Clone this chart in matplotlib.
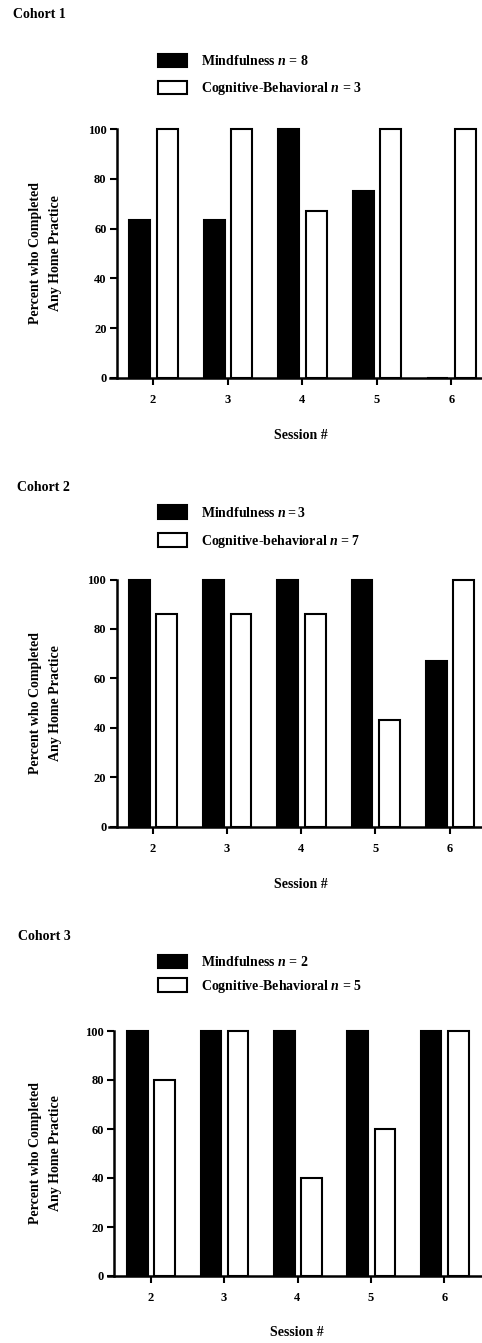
import matplotlib
matplotlib.use("Agg")
import matplotlib.pyplot as plt

# ---------- DATA ----------
sessions = [2, 3, 4, 5, 6]

cohort1_mind = [63.6, 63.6, 100, 75, 0]
cohort1_cbt = [100, 100, 67, 100, 100]
cohort2_mind = [100, 100, 100, 100, 67]
cohort2_cbt = [86, 86, 86, 43, 100]
cohort3_mind = [100, 100, 100, 100, 100]
cohort3_cbt = [80, 100, 40, 60, 100]

titles = ["Cohort 1", "Cohort 2", "Cohort 3"]
mind_labels = [r"Mindfulness $n$ = 8", r"Mindfulness $n = \mathit{3}$", r"Mindfulness $n$ = 2"]
cbt_labels = [r"Cognitive-Behavioral $n$ = 3", r"Cognitive-behavioral $n$ = 7",
              r"Cognitive-Behavioral $n$ = 5"]
yticks = [0, 20, 40, 60, 80, 100]

# ---------- STYLE ----------
plt.rcParams["font.family"] = ["Liberation Serif", "DejaVu Serif"]
plt.rcParams["font.weight"] = "bold"
plt.rcParams["mathtext.fontset"] = "custom"
plt.rcParams["mathtext.rm"] = "Liberation Serif"
plt.rcParams["mathtext.it"] = "Liberation Serif:italic"
plt.rcParams["mathtext.bf"] = "Liberation Serif:bold"

W, H = 482, 1343
fig = plt.figure(figsize=(W / 100, H / 100), dpi=100)


def fx(x):
    return x / W


def fy(y):
    return 1 - y / H


# layout per panel in pixels: axis start, spine x, tick 2 x, tick 6 x, y of 100, y of 0
layout = [
    (110, 117, 153, 451.3, 129.3, 377.7),
    (109.3, 116.7, 152.7, 449.7, 579.5, 826.7),
    (108, 114.3, 150.7, 444.3, 1031, 1276),
]
# title pos, legend rows, xlabel pos
title_pos = [(13, 15), (17, 487), (18, 936)]
legend_rows = [(61.7, 89.3), (513.3, 541.7), (962.7, 986.7)]
xlabel_y = [435, 884, 1333]
xlabel_x = [301, 301, 297]

mind_data = [cohort1_mind, cohort2_mind, cohort3_mind]
cbt_data = [cohort1_cbt, cohort2_cbt, cohort3_cbt]

for i in range(3):
    x0, sx, t2, t6, y100, y0 = layout[i]
    scale = (t6 - t2) / 4
    ax = fig.add_axes([fx(x0), fy(y0), fx(W - x0), (y0 - y100) / H])
    ax.set_xlim(2 + (x0 - t2) / scale, 2 + (W - t2) / scale)
    ax.set_ylim(0, 100)

    xs = sessions
    b1 = ax.bar([s - 0.18 for s in xs], mind_data[i], width=0.28, color="black",
                edgecolor="black", linewidth=1.5, clip_on=False, zorder=3,
                label=mind_labels[i])
    b2 = ax.bar([s + 0.19 for s in xs], cbt_data[i], width=0.28, color="white",
                edgecolor="black", linewidth=1.5, clip_on=False, zorder=3,
                label=cbt_labels[i])

    ax.spines["top"].set_visible(False)
    ax.spines["right"].set_visible(False)
    ax.spines["left"].set_position(("data", 2 + (sx - t2) / scale))
    ax.spines["left"].set_linewidth(1.8)
    ax.spines["bottom"].set_linewidth(1.8)
    ax.spines["bottom"].set_zorder(4)

    ax.set_xticks(sessions)
    ax.set_yticks(yticks)
    ax.tick_params(axis="x", length=5, width=1.5, pad=6.5, labelsize=9)
    ax.tick_params(axis="y", length=5, width=1.5, pad=2.5, labelsize=9)
    for lab in ax.get_xticklabels() + ax.get_yticklabels():
        lab.set_fontweight("bold")

    # legend
    r1, r2 = legend_rows[i]
    leg = ax.legend(handles=[b1, b2], loc="center left",
                    bbox_to_anchor=(fx(157.7), fy((r1 + r2) / 2)),
                    bbox_transform=fig.transFigure, frameon=False, fontsize=10,
                    borderaxespad=0, borderpad=0, handlelength=2.1,
                    handleheight=1.1, handletextpad=1.0,
                    labelspacing=(r2 - r1) / 13.9 - 1.1)
    for t in leg.get_texts():
        t.set_fontweight("bold")

    fig.text(fx(title_pos[i][0]), fy(title_pos[i][1]), titles[i], fontsize=10,
             fontweight="bold", ha="left", va="center")
    fig.text(fx(xlabel_x[i]), fy(xlabel_y[i]), "Session #", fontsize=10,
             fontweight="bold", ha="center", va="center")
    fig.text(fx(45.5), fy((y0 + y100) / 2), "Percent who Completed\nAny Home Practice",
             fontsize=10, fontweight="bold", ha="center", va="center",
             rotation=90, linespacing=1.8, multialignment="center")

fig.savefig("out.png", dpi=100)
